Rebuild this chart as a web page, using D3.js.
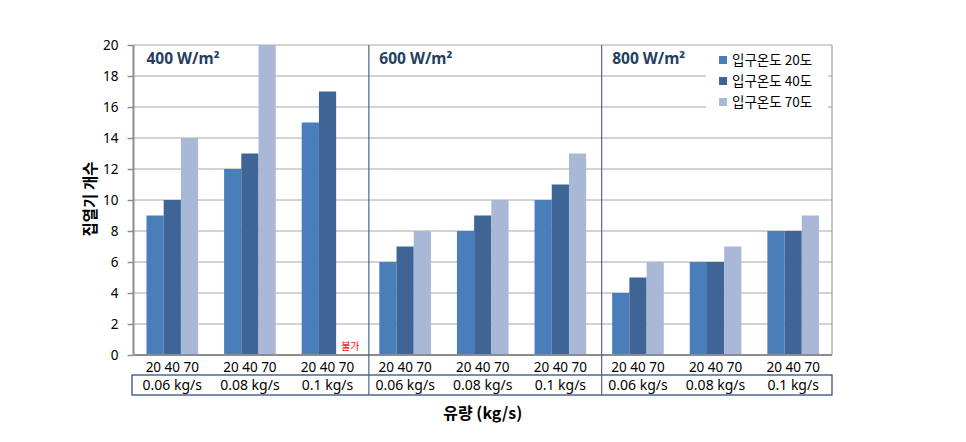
<!DOCTYPE html>
<html>
<head>
<meta charset="utf-8">
<script src="https://cdn.jsdelivr.net/npm/d3@7"></script>
<style>
  body { margin: 0; background: #fff; }
  text { font-family: "Noto Sans", "Noto Sans CJK KR", sans-serif; }
  .kr { font-family: "Noto Sans CJK KR", "Noto Sans", sans-serif; }
</style>
</head>
<body>
<div class="chart"></div>
<script>
// data
const panels = ["400 W/m²", "600 W/m²", "800 W/m²"];
const flows = ["0.06 kg/s", "0.08 kg/s", "0.1 kg/s"];
const temps = ["20", "40", "70"];
const legendLabels = ["입구온도 20도", "입구온도 40도", "입구온도 70도"];
const temp20 = [9, 12, 15, 6, 8, 10, 4, 6, 8];
const temp40 = [10, 13, 17, 7, 9, 11, 5, 6, 8];
const temp70 = [14, 20, null, 8, 10, 13, 6, 7, 9];
const yTicks = [0, 2, 4, 6, 8, 10, 12, 14, 16, 18, 20];
const colors = ["#4A7EBB", "#3E6596", "#A9B8D6"];

let margin = { top: 45, right: 134, bottom: 87, left: 133.5 },
    width = 966 - margin.left - margin.right,
    height = 442 - margin.top - margin.bottom;

let svg = d3.select(".chart")
    .append("svg")
    .attr("width", 966)
    .attr("height", 442)
    .append("g")
    .attr("transform", `translate(${margin.left},${margin.top})`);

const groups = [];
panels.forEach(p => flows.forEach(f => groups.push(p + "|" + f)));
const series = [temp20, temp40, temp70];

let x0 = d3.scaleBand().domain(groups).range([0, width]);
let x1 = d3.scaleBand().domain(temps).range([0, x0.bandwidth()])
    .paddingInner(0).paddingOuter(0.755);
let y = d3.scaleLinear().domain([0, 20]).range([height, 0]);

// gridlines
svg.append("g").selectAll("line")
    .data(yTicks.slice(1))
    .join("line")
    .attr("x1", 0).attr("x2", width)
    .attr("y1", d => y(d)).attr("y2", d => y(d))
    .attr("stroke", "#A6A6A6").attr("stroke-width", 1);

// right border
svg.append("line")
    .attr("x1", width).attr("x2", width)
    .attr("y1", 0).attr("y2", height)
    .attr("stroke", "#8C8C8C");

// bars
const barData = [];
groups.forEach((g, i) => temps.forEach((t, j) => {
  if (series[j][i] != null) barData.push({ g, t, j, v: series[j][i] });
}));
svg.append("g").selectAll("rect")
    .data(barData)
    .join("rect")
    .attr("x", d => x0(d.g) + x1(d.t))
    .attr("y", d => y(d.v))
    .attr("width", x1.bandwidth())
    .attr("height", d => y(0) - y(d.v))
    .attr("fill", d => colors[d.j]);

// 불가 note (no bar for 0.1 kg/s, 70도, 400 W/m²)
svg.append("text")
    .attr("class", "kr")
    .attr("x", x0(groups[2]) + x1("70") + 5)
    .attr("y", y(0) - 5)
    .attr("font-size", 10)
    .attr("fill", "#FF0000")
    .text("불가");

// y axis
let yAxis = d3.axisLeft(y).tickValues(yTicks).tickSize(6).tickPadding(9);
let yAxisGroup = svg.append("g").attr("class", "axis y-axis").call(yAxis);
yAxisGroup.select(".domain").remove();
yAxisGroup.selectAll("line").attr("stroke", "#8C8C8C").attr("stroke-width", 1.5);
yAxisGroup.selectAll("text").attr("font-size", 13.5).attr("fill", "#000");
svg.append("line")
    .attr("x1", 0).attr("x2", 0).attr("y1", 0).attr("y2", height)
    .attr("stroke", "#8C8C8C").attr("stroke-width", 2);
svg.append("line")
    .attr("x1", 0).attr("x2", width).attr("y1", height).attr("y2", height)
    .attr("stroke", "#8C8C8C").attr("stroke-width", 2);

// temperature labels under each group
svg.append("g").selectAll("text")
    .data(groups)
    .join("text")
    .attr("x", d => x0(d) + x0.bandwidth() / 2)
    .attr("y", height + 17)
    .attr("text-anchor", "middle")
    .attr("font-size", 13.5)
    .text(temps.join(" "));

// flow table
svg.append("rect")
    .attr("x", -1.5).attr("y", height + 20)
    .attr("width", width + 1.5).attr("height", 20)
    .attr("fill", "none").attr("stroke", "#2F5282").attr("stroke-width", 1.3);
svg.append("g").selectAll("text")
    .data(groups)
    .join("text")
    .attr("x", d => x0(d) + x0.bandwidth() / 2)
    .attr("y", height + 34.5)
    .attr("text-anchor", "middle")
    .attr("font-size", 14)
    .text(d => d.split("|")[1]);

// panel dividers
svg.append("g").selectAll("line")
    .data([groups[3], groups[6]])
    .join("line")
    .attr("x1", d => x0(d) + 2.5).attr("x2", d => x0(d) + 2.5)
    .attr("y1", 0).attr("y2", height + 40)
    .attr("stroke", "#4A6A96").attr("stroke-width", 1.2);

// panel titles
svg.append("g").selectAll("text")
    .data(panels)
    .join("text")
    .attr("x", (d, i) => x0(groups[i * 3]) + x1("20"))
    .attr("y", 19)
    .attr("font-size", 15.5)
    .attr("font-weight", "bold")
    .attr("fill", "#243F60")
    .text(d => d);

// legend
let legend = svg.append("g").attr("transform", `translate(${width - 126},0)`);
legend.append("rect")
    .attr("x", 0).attr("y", 2).attr("width", 122).attr("height", 68)
    .attr("fill", "#fff");
legendLabels.forEach((l, i) => {
  legend.append("rect")
      .attr("x", 13).attr("y", 11 + i * 21)
      .attr("width", 8).attr("height", 8)
      .attr("fill", colors[i]);
  legend.append("text")
      .attr("class", "kr")
      .attr("x", 26).attr("y", 20 + i * 21)
      .attr("font-size", 13.5)
      .text(l);
});

// axis titles
svg.append("text")
    .attr("class", "kr")
    .attr("transform", `translate(${-38},${height / 2 - 1}) rotate(-90)`)
    .attr("text-anchor", "middle")
    .attr("font-size", 15.5)
    .attr("font-weight", "bold")
    .text("집열기 개수");
svg.append("text")
    .attr("class", "kr")
    .attr("x", width / 2)
    .attr("y", height + 64)
    .attr("text-anchor", "middle")
    .attr("font-size", 16)
    .attr("font-weight", "bold")
    .text("유량 (kg/s)");
</script>
</body>
</html>
